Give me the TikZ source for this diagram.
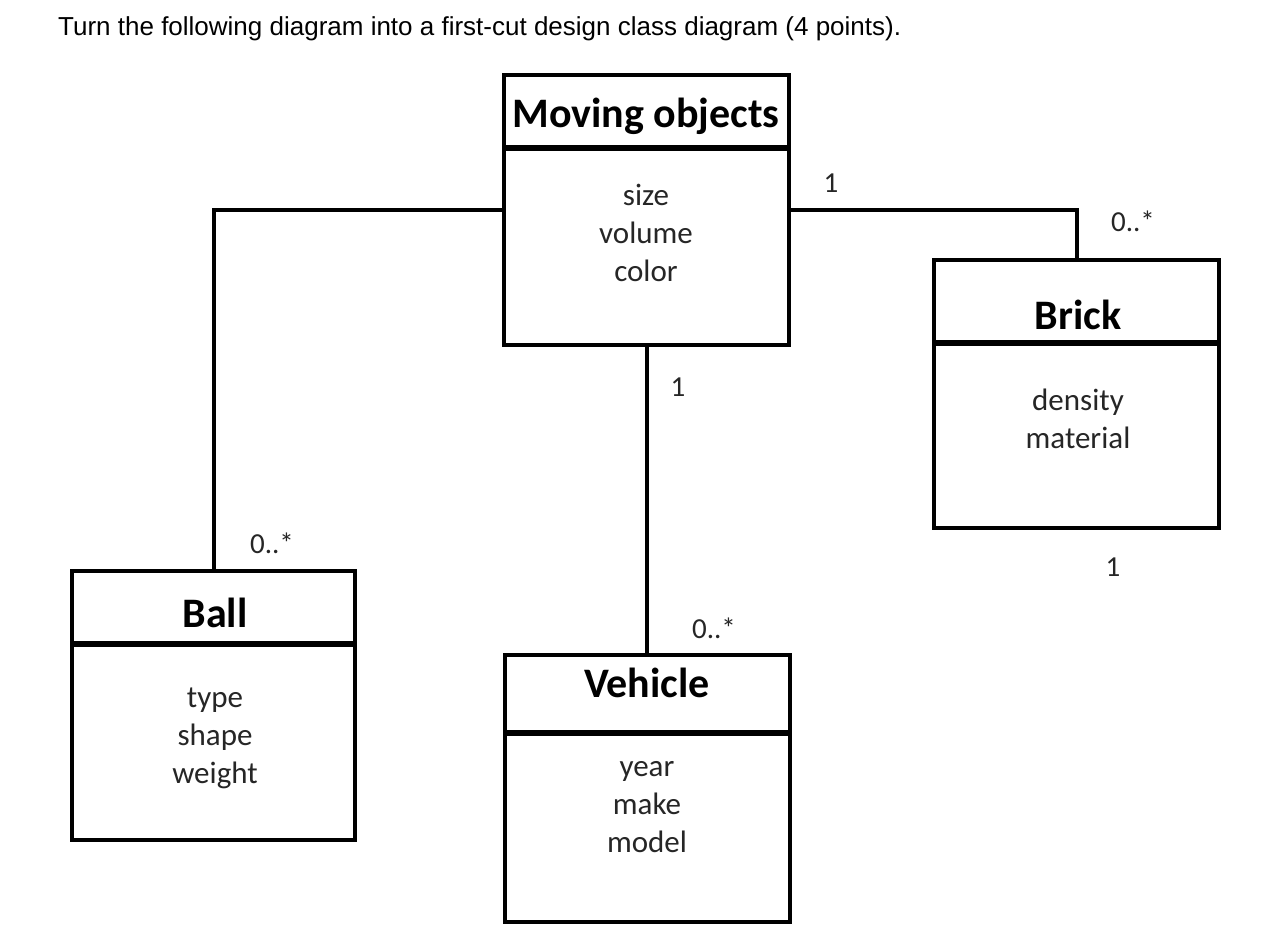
\documentclass[tikz,border=0pt]{standalone}
\usepackage{fontspec}
\setmainfont{Carlito}
\newfontfamily\titlefont{Liberation Sans}
\begin{document}
\begin{tikzpicture}[x=1pt,y=-1pt,
  classbox/.style={draw=black,line width=4pt,rectangle,inner sep=0pt,outer sep=0pt,fill=white},
  sepline/.style={line width=6pt},
  conn/.style={line width=4pt},
  cname/.style={anchor=base,inner sep=0pt,font=\fontsize{42}{44}\selectfont\bfseries},
  attrs/.style={anchor=base,inner sep=0pt,font=\fontsize{31}{38}\selectfont,align=center,text=black!85},
  mult/.style={inner sep=0pt,font=\fontsize{29}{30}\selectfont,text=black!85},
  ttl/.style={anchor=base west,inner sep=0pt,font=\titlefont\fontsize{26}{30}\selectfont}
]
\useasboundingbox (0,0) rectangle (1286,952);
\fill[white] (0,0) rectangle (1286,952);

\node[ttl] (title) at (58,36) {Turn the following diagram into a first-cut design class diagram (4 points).};

% class boxes
\node[classbox,minimum width=285pt,minimum height=270pt] (mo) at (646.5,210) {};
\node[classbox,minimum width=285pt,minimum height=268pt] (brick) at (1076.5,394) {};
\node[classbox,minimum width=283pt,minimum height=269pt] (ball) at (213.5,705.5) {};
\node[classbox,minimum width=285pt,minimum height=267pt] (veh) at (647.5,788.5) {};

% separators
\draw[sepline] ([xshift=-2pt]mo.north west) ++(0,73) -- ++(289,0);
\draw[sepline] ([xshift=-2pt]brick.north west) ++(0,83) -- ++(289,0);
\draw[sepline] ([xshift=-2pt]ball.north west) ++(0,73) -- ++(287,0);
\draw[sepline] ([xshift=-2pt]veh.north west) ++(0,78) -- ++(289,0);

% names
\node[cname] (moname) at (646,128) {Moving objects};
\node[cname] (brickname) at (1078,330) {Brick};
\node[cname] (ballname) at (215,627) {Ball};
\node[cname] (vehname) at (647,697) {Vehicle};

% attributes (anchor base = baseline of last line)
\node[attrs] (moattr) at (646,282) {size\\volume\\color};
\node[attrs] (brickattr) at (1078,448) {density\\material};
\node[attrs] (ballattr) at (215,783) {type\\shape\\weight};
\node[attrs] (vehattr) at (647,852) {year\\make\\model};

% connectors
\draw[conn] (ball.north) |- (mo.west);
\draw[conn] (mo.east) -| (brick.north);
\draw[conn] (mo.south) -- (mo.south |- veh.north);

% multiplicities
\node[mult] (m1) at (831,183) {1};
\node[mult] (m2) at (1133,221) {0..*};
\node[mult] (m3) at (678,387) {1};
\node[mult] (m4) at (272,543) {0..*};
\node[mult] (m5) at (714,628) {0..*};
\node[mult] (m6) at (1113,567) {1};
\end{tikzpicture}
\end{document}
